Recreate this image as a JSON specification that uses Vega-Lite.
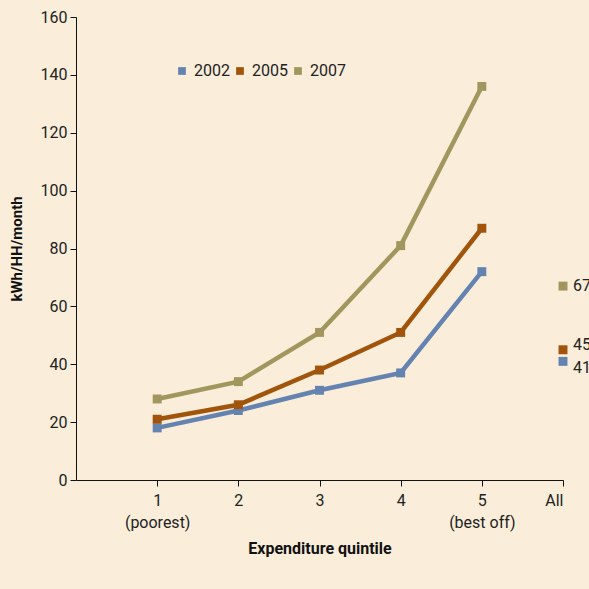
{
  "$schema": "https://vega.github.io/schema/vega-lite/v6.json",
  "autosize": "none",
  "width": 487,
  "height": 463,
  "padding": {"left": 76, "top": 17, "right": 26, "bottom": 109},
  "background": "#faeedb",
  "config": {
    "view": {"stroke": null},
    "font": "Roboto",
    "axis": {"labelFont": "Roboto", "titleFont": "Roboto", "labelColor": "#222", "titleColor": "#111", "domainColor": "#111", "tickColor": "#111", "grid": false, "labelFontSize": 16, "titleFontSize": 16},
    "legend": {"labelFont": "Roboto"}
  },
  "datasets": {
    "series": [
      {"q": 1, "year": "2002", "v": 18}, {"q": 2, "year": "2002", "v": 24}, {"q": 3, "year": "2002", "v": 31}, {"q": 4, "year": "2002", "v": 37}, {"q": 5, "year": "2002", "v": 72},
      {"q": 1, "year": "2005", "v": 21}, {"q": 2, "year": "2005", "v": 26}, {"q": 3, "year": "2005", "v": 38}, {"q": 4, "year": "2005", "v": 51}, {"q": 5, "year": "2005", "v": 87},
      {"q": 1, "year": "2007", "v": 28}, {"q": 2, "year": "2007", "v": 34}, {"q": 3, "year": "2007", "v": 51}, {"q": 4, "year": "2007", "v": 81}, {"q": 5, "year": "2007", "v": 136}
    ],
    "all": [
      {"q": 6, "year": "2002", "v": 41, "lab": "41"},
      {"q": 6, "year": "2005", "v": 45, "lab": "45"},
      {"q": 6, "year": "2007", "v": 67, "lab": "67"}
    ]
  },
  "encoding": {
    "x": {"field": "q", "type": "quantitative", "scale": {"domain": [0, 6], "nice": false, "zero": true},
      "axis": {"values": [1, 2, 3, 4, 5, 6], "title": "Expenditure quintile", "titleFontWeight": "bold", "titlePadding": 10, "labelPadding": 6, "tickSize": 6,
        "labelExpr": "datum.value == 1 ? ['1', '(poorest)'] : datum.value == 5 ? ['5', '(best off)'] : datum.value == 6 ? 'All' : datum.label", "labelLineHeight": 22}},
    "y": {"field": "v", "type": "quantitative", "scale": {"domain": [0, 160], "nice": false},
      "axis": {"values": [0, 20, 40, 60, 80, 100, 120, 140, 160], "title": "kWh/HH/month", "titleFontWeight": "bold", "titleFontSize": 15, "titlePadding": 16, "tickSize": 6, "labelPadding": 3}},
    "color": {"field": "year", "type": "nominal",
      "scale": {"domain": ["2002", "2005", "2007"], "range": ["#6583b0", "#a0540c", "#a1975e"]},
      "legend": {"orient": "none", "legendX": 98, "legendY": 46, "direction": "horizontal", "title": null, "symbolType": "square", "symbolSize": 60, "symbolStrokeWidth": 0, "labelFontSize": 16, "labelColor": "#222", "columnPadding": 2, "labelOffset": 4}}
  },
  "layer": [
    {"data": {"name": "series"}, "mark": {"type": "line", "strokeWidth": 4.5}},
    {"data": {"name": "series"}, "mark": {"type": "point", "shape": "square", "filled": true, "opacity": 1, "size": 80}},
    {"data": {"name": "all"}, "mark": {"type": "point", "shape": "square", "filled": true, "opacity": 1, "size": 80}},
    {"data": {"name": "all"}, "transform": [{"filter": "datum.lab == '67'"}], "mark": {"type": "text", "align": "left", "dx": 10, "fontSize": 16, "font": "Roboto"},
      "encoding": {"text": {"field": "lab"}, "color": {"value": "#222"}}},
    {"data": {"name": "all"}, "transform": [{"filter": "datum.lab == '45'"}], "mark": {"type": "text", "align": "left", "dx": 10, "dy": -5, "fontSize": 16, "font": "Roboto"},
      "encoding": {"text": {"field": "lab"}, "color": {"value": "#222"}}},
    {"data": {"name": "all"}, "transform": [{"filter": "datum.lab == '41'"}], "mark": {"type": "text", "align": "left", "dx": 10, "dy": 7, "fontSize": 16, "font": "Roboto"},
      "encoding": {"text": {"field": "lab"}, "color": {"value": "#222"}}}
  ]
}
